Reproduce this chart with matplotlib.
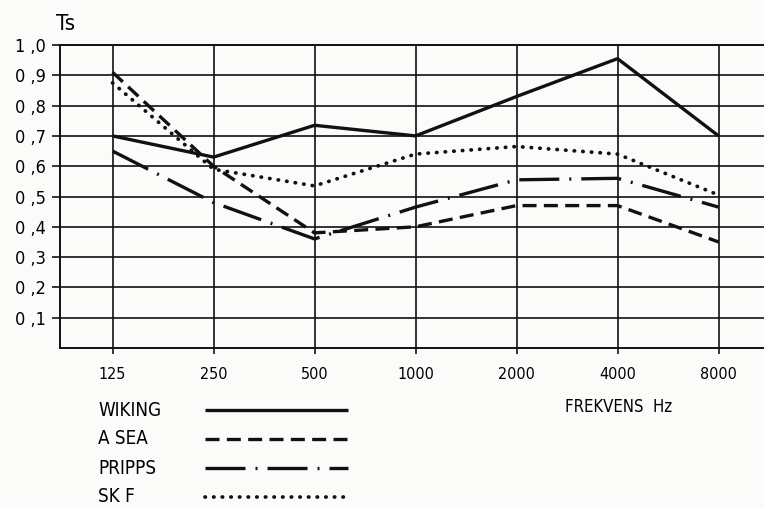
import matplotlib
matplotlib.use("Agg")
import matplotlib.pyplot as plt
from matplotlib.lines import Line2D

# frequency bands (Hz) and Ts values per brand
freqs = ["125", "250", "500", "1000", "2000", "4000", "8000"]
wiking = [0.70, 0.63, 0.735, 0.70, 0.83, 0.955, 0.70]
asea = [0.91, 0.60, 0.38, 0.40, 0.47, 0.47, 0.35]
pripps = [0.65, 0.48, 0.36, 0.465, 0.555, 0.56, 0.465]
skf = [0.875, 0.59, 0.535, 0.64, 0.665, 0.64, 0.505]
yticks = [0.1, 0.2, 0.3, 0.4, 0.5, 0.6, 0.7, 0.8, 0.9, 1.0]

series = [
    ("WIKING", wiking, dict(linestyle="-", lw=2.4, solid_capstyle="butt")),
    ("A SEA", asea, dict(linestyle=(0, (4.2, 2.2)), lw=2.4)),
    ("PRIPPS", pripps, dict(linestyle=(0, (12, 3, 0.6, 3)), lw=2.4)),
    ("SK F", skf, dict(linestyle=(0, (0.1, 2.2)), lw=2.7, dash_capstyle="round")),
]

plt.rcParams["font.family"] = "DejaVu Sans"
plt.rcParams["font.stretch"] = "condensed"
fig = plt.figure(figsize=(7.64, 5.08), dpi=100, facecolor="#fbfbfa")
ax = fig.add_axes([60 / 764, 1 - 348 / 508, 1 - 60 / 764, 303 / 508])
ax.set_facecolor("#fbfbfa")

x = list(range(len(freqs)))
for name, vals, style in series:
    ax.plot(x, vals, color="#111111", **style)

ax.set_xlim(-0.52, 6.45)
ax.set_ylim(0, 1.0)
ax.set_xticks(x)
ax.set_xticklabels(freqs, fontsize=11.5)
ax.set_yticks(yticks)
ax.set_yticklabels([f"{v:.1f}".replace(".", " ,") for v in yticks], fontsize=13)
ax.grid(True, color="#111111", lw=1.2)
ax.tick_params(axis="y", length=6, width=1.2, pad=4, color="#111111")
ax.tick_params(axis="x", length=4, width=1.2, pad=10, color="#111111")
for side in ["left", "bottom", "top"]:
    ax.spines[side].set_linewidth(1.4)
    ax.spines[side].set_color("#111111")
ax.spines["right"].set_visible(False)

fig.text(56 / 764, 1 - 24 / 508, "Ts", fontsize=16, va="center", ha="left")
fig.text(565 / 764, 1 - 407 / 508, "FREKVENS  Hz", fontsize=12, va="center")

# legend rows drawn under the plot
rows_y = [410, 439, 468, 497]
for (name, vals, style), ypx in zip(series, rows_y):
    yf = 1 - ypx / 508
    fig.text(98 / 764, yf, name, fontsize=13.5, va="center", ha="left")
    fig.add_artist(Line2D([205 / 764, 348 / 764], [yf, yf], color="#111111",
                          transform=fig.transFigure, **style))

fig.savefig("out.png", dpi=100, facecolor=fig.get_facecolor())
